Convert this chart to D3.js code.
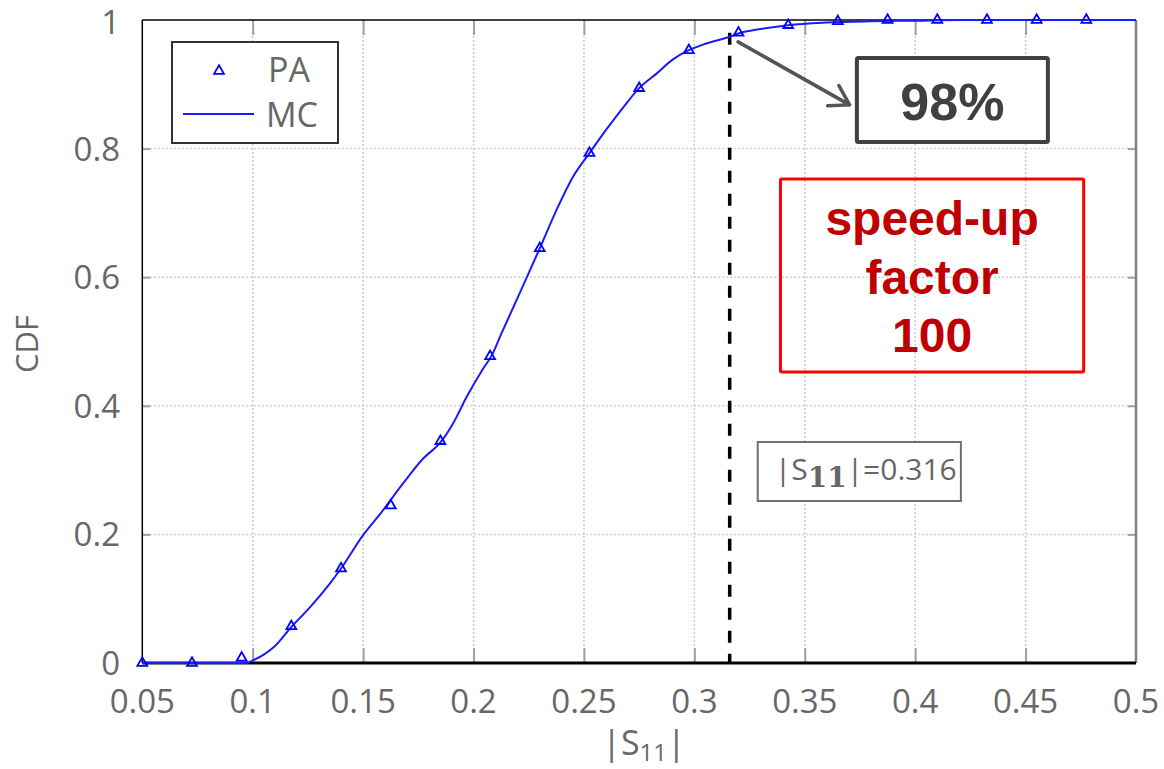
<!DOCTYPE html>
<html>
<head>
<meta charset="utf-8">
<script src="https://cdn.jsdelivr.net/npm/d3@7"></script>
<style>
  html, body { margin: 0; padding: 0; background: #fff; }
  svg { display: block; }
</style>
</head>
<body>
<svg id="chart" width="1164" height="769"></svg>
<script>
// PA (polynomial approximation) samples of the CDF
const paX = [0.05, 0.0725, 0.095, 0.1175, 0.14, 0.1625, 0.185, 0.2075, 0.23, 0.2525,
             0.275, 0.2975, 0.32, 0.3425, 0.365, 0.3875, 0.41, 0.4325, 0.455, 0.4775];
const paY = [0, 0, 0.008, 0.057, 0.147, 0.245, 0.345, 0.477, 0.645, 0.793,
             0.894, 0.953, 0.980, 0.992, 0.998, 1, 1, 1, 1, 1];

// Monte Carlo reference CDF
const mcX = [0.05, 0.097, 0.1, 0.105, 0.11, 0.1175, 0.126, 0.135, 0.14, 0.15, 0.158, 0.168,
             0.1772, 0.185, 0.1908, 0.1969, 0.2044, 0.2082, 0.2127, 0.2195, 0.23, 0.2375,
             0.245, 0.2525, 0.26, 0.268, 0.275, 0.283, 0.29, 0.2975, 0.305, 0.316, 0.32,
             0.33, 0.3425, 0.36, 0.38, 0.4, 0.42, 0.5];
const mcY = [0, 0, 0.004, 0.013, 0.026, 0.056, 0.087, 0.124, 0.147, 0.199, 0.233, 0.279,
             0.318, 0.343, 0.373, 0.414, 0.458, 0.478, 0.513, 0.5645, 0.645, 0.704,
             0.756, 0.793, 0.829, 0.865, 0.894, 0.917, 0.938, 0.953, 0.963, 0.974, 0.979,
             0.986, 0.992, 0.996, 0.998, 0.999, 1, 1];

const xTicks = [0.05, 0.1, 0.15, 0.2, 0.25, 0.3, 0.35, 0.4, 0.45, 0.5];
const yTicks = [0, 0.2, 0.4, 0.6, 0.8, 1];
const xTickLabels = ["0.05", "0.1", "0.15", "0.2", "0.25", "0.3", "0.35", "0.4", "0.45", "0.5"];
const yTickLabels = ["0", "0.2", "0.4", "0.6", "0.8", "1"];

const threshold = 0.316;       // |S11| limit
const thresholdCdf = 0.98;     // CDF reached at the limit

const svg = d3.select("#chart");
const pL = 142.3, pR = 1136, pT = 20, pB = 663;

const x = d3.scaleLinear().domain([0.05, 0.5]).range([pL, pR]);
const y = d3.scaleLinear().domain([0, 1]).range([pB, pT]);

const greyText = "#676767";
const sans = "'Open Sans', 'DejaVu Sans', sans-serif";
const bold = "'Liberation Sans', Arial, sans-serif";

// dotted grid
const grid = svg.append("g");
grid.selectAll("line.gx").data(xTicks.slice(1, -1)).join("line")
  .attr("x1", d => x(d)).attr("x2", d => x(d))
  .attr("y1", pT).attr("y2", pB)
  .attr("stroke", "#cdcdcd").attr("stroke-width", 1.5).attr("stroke-dasharray", "2,2");
grid.selectAll("line.gy").data(yTicks.slice(1, -1)).join("line")
  .attr("y1", d => y(d)).attr("y2", d => y(d))
  .attr("x1", pL).attr("x2", pR)
  .attr("stroke", "#cdcdcd").attr("stroke-width", 1.5).attr("stroke-dasharray", "2,2");

// inward tick marks (bottom/top and left/right)
const xAxisB = d3.axisBottom(x).tickValues(xTicks.slice(1, -1)).tickSize(-15).tickFormat("");
const xAxisT = d3.axisTop(x).tickValues(xTicks.slice(1, -1)).tickSize(-15).tickFormat("");
const yAxisL = d3.axisLeft(y).tickValues(yTicks.slice(1, -1)).tickSize(-8).tickFormat("");
const yAxisR = d3.axisRight(y).tickValues(yTicks.slice(1, -1)).tickSize(-8).tickFormat("");
[[xAxisB, `translate(0,${pB})`], [xAxisT, `translate(0,${pT})`],
 [yAxisL, `translate(${pL},0)`], [yAxisR, `translate(${pR},0)`]].forEach(([ax, tr]) => {
  const g = svg.append("g").attr("transform", tr).call(ax);
  g.select(".domain").remove();
  g.selectAll(".tick line").attr("stroke", "#a0a0a0").attr("stroke-width", 2);
});

// frame
svg.append("line").attr("x1", pL).attr("x2", pR).attr("y1", pT).attr("y2", pT)
  .attr("stroke", "#000").attr("stroke-width", 1.5);
svg.append("line").attr("x1", pR).attr("x2", pR).attr("y1", pT).attr("y2", pB)
  .attr("stroke", "#808080").attr("stroke-width", 2.5);
svg.append("line").attr("x1", pL).attr("x2", pL).attr("y1", pT).attr("y2", pB)
  .attr("stroke", "#000").attr("stroke-width", 1.5);

// tick labels
svg.append("g").selectAll("text").data(xTicks).join("text")
  .attr("x", d => x(d)).attr("y", 713)
  .attr("text-anchor", "middle")
  .attr("font-family", sans).attr("font-size", 33).attr("fill", greyText)
  .text((d, i) => xTickLabels[i]);
svg.append("g").selectAll("text").data(yTicks).join("text")
  .attr("x", 120).attr("y", d => Math.max(y(d) + 12, 34))
  .attr("text-anchor", "end")
  .attr("font-family", sans).attr("font-size", 33).attr("fill", greyText)
  .text((d, i) => yTickLabels[i]);

// axis titles
svg.append("text")
  .attr("transform", `translate(38,${344}) rotate(-90)`)
  .attr("text-anchor", "middle")
  .attr("font-family", sans).attr("font-size", 31).attr("fill", greyText)
  .text("CDF");
const xt = svg.append("text")
  .attr("x", 644).attr("y", 755)
  .attr("text-anchor", "middle")
  .attr("font-family", sans).attr("font-size", 34).attr("fill", greyText);
xt.append("tspan").text("|S");
xt.append("tspan").attr("font-size", 24).attr("dy", 6).text("11");
xt.append("tspan").attr("dy", -6).text("|");

// threshold line
svg.append("line")
  .attr("x1", x(threshold)).attr("x2", x(threshold))
  .attr("y1", y(thresholdCdf)).attr("y2", y(0))
  .attr("stroke", "#000").attr("stroke-width", 3.5).attr("stroke-dasharray", "12,11");

// bottom axis line over the grid ticks
svg.append("line").attr("x1", pL).attr("x2", pR).attr("y1", pB).attr("y2", pB)
  .attr("stroke", "#000").attr("stroke-width", 3);

// MC curve
const line = d3.line().x(d => x(d[0])).y(d => y(d[1])).curve(d3.curveMonotoneX);
svg.append("path")
  .datum(mcX.map((v, i) => [v, mcY[i]]))
  .attr("d", line)
  .attr("fill", "none").attr("stroke", "#1a1aff").attr("stroke-width", 2);

// PA markers
const tri = d3.symbol().type(d3.symbolTriangle).size(42);
svg.append("g").selectAll("path").data(paX.map((v, i) => [v, paY[i]])).join("path")
  .attr("d", tri)
  .attr("transform", d => `translate(${x(d[0])},${y(d[1])})`)
  .attr("fill", "none").attr("stroke", "#0000ff").attr("stroke-width", 1.8);

// legend
const lg = svg.append("g");
lg.append("rect").attr("x", 172).attr("y", 42).attr("width", 166).attr("height", 101)
  .attr("fill", "#fff").attr("stroke", "#333").attr("stroke-width", 2);
lg.append("path").attr("d", tri).attr("transform", "translate(219,71)")
  .attr("fill", "none").attr("stroke", "#0000ff").attr("stroke-width", 1.8);
lg.append("line").attr("x1", 183).attr("x2", 254).attr("y1", 114).attr("y2", 114)
  .attr("stroke", "#1a1aff").attr("stroke-width", 2);
lg.append("text").attr("x", 268).attr("y", 82)
  .attr("font-family", sans).attr("font-size", 34).attr("fill", greyText).text("PA");
lg.append("text").attr("x", 266).attr("y", 127)
  .attr("font-family", sans).attr("font-size", 34).attr("fill", greyText).text("MC");

// arrow to the 98% box
const a0 = [x(0.3198), y(0.966)], a1 = [x(0.3703), y(0.868)];
const ang = Math.atan2(a1[1] - a0[1], a1[0] - a0[0]);
const barb = 22, spread = 0.55;
const b1 = [a1[0] - barb * Math.cos(ang - spread), a1[1] - barb * Math.sin(ang - spread)];
const b2 = [a1[0] - barb * Math.cos(ang + spread), a1[1] - barb * Math.sin(ang + spread)];
svg.append("path")
  .attr("d", `M${a0}L${a1}M${b1}L${a1}L${b2}`)
  .attr("fill", "none").attr("stroke", "#555").attr("stroke-width", 3.5)
  .attr("stroke-linecap", "round").attr("stroke-linejoin", "round");

// 98% box
const bx0 = x(0.3736), bx1 = x(0.4601), by0 = y(0.9409), by1 = y(0.8103);
svg.append("rect").attr("x", bx0).attr("y", by0).attr("width", bx1 - bx0).attr("height", by1 - by0)
  .attr("fill", "#fff").attr("stroke", "#404040").attr("stroke-width", 4).attr("rx", 1.5);
svg.append("text").attr("x", (bx0 + bx1) / 2).attr("y", by0 + 62)
  .attr("text-anchor", "middle").attr("font-family", bold).attr("font-weight", "bold")
  .attr("font-size", 52).attr("fill", "#404040").text("98%");

// speed-up box
const rx0 = x(0.339), rx1 = x(0.4763), ry0 = y(0.7527), ry1 = y(0.4526);
svg.append("rect").attr("x", rx0).attr("y", ry0).attr("width", rx1 - rx0).attr("height", ry1 - ry0)
  .attr("fill", "none").attr("stroke", "#ff0000").attr("stroke-width", 3).attr("rx", 1.5);
["speed-up", "factor", "100"].forEach((t, i) => {
  svg.append("text").attr("x", (rx0 + rx1) / 2).attr("y", ry0 + 56 + i * 58.5)
    .attr("text-anchor", "middle").attr("font-family", bold).attr("font-weight", "bold")
    .attr("font-size", 48).attr("fill", "#c00000").text(t);
});

// threshold label
const sx0 = x(0.3287), sx1 = x(0.4207), sy0 = y(0.3437), sy1 = y(0.252);
svg.append("rect").attr("x", sx0).attr("y", sy0).attr("width", sx1 - sx0).attr("height", sy1 - sy0)
  .attr("fill", "#fff").attr("stroke", "#707070").attr("stroke-width", 2);
const st = svg.append("text").attr("x", sx0 + 17).attr("y", sy0 + 38)
  .attr("font-family", sans).attr("font-size", 30).attr("fill", greyText);
st.append("tspan").text("|S");
st.append("tspan").attr("font-size", 28).attr("dy", 7).attr("font-weight", "bold")
  .attr("font-family", "'DejaVu Serif', serif").text("11");
st.append("tspan").attr("dy", -7).text("|=0.316");
</script>
</body>
</html>
